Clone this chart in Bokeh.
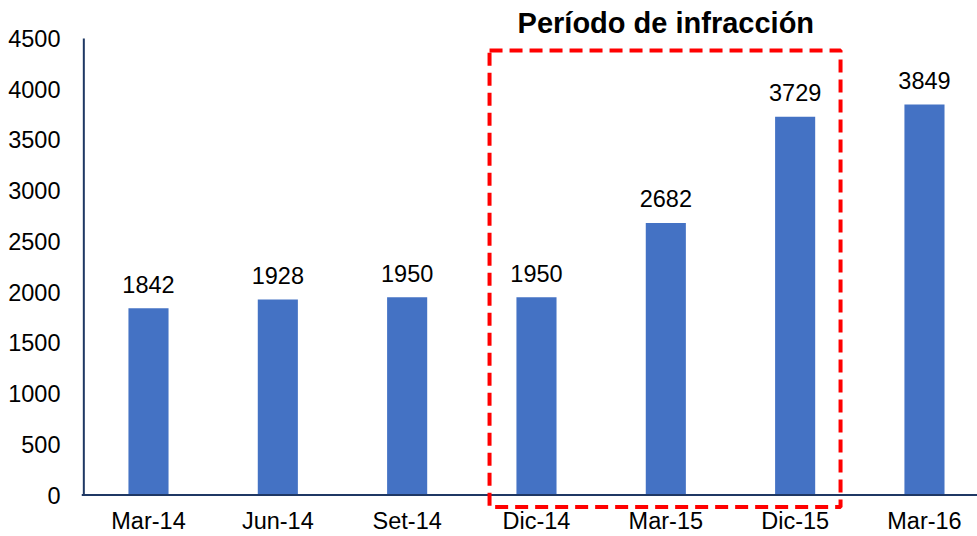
from bokeh.plotting import figure
from bokeh.models import ColumnDataSource, FixedTicker, Range1d, Span, BoxAnnotation, Label
from bokeh.core.properties import value
from bokeh.embed import file_html
from bokeh.resources import INLINE

categories = ["Mar-14", "Jun-14", "Set-14", "Dic-14", "Mar-15", "Dic-15", "Mar-16"]
values = [1842, 1928, 1950, 1950, 2682, 3729, 3849]
y_ticks = [0, 500, 1000, 1500, 2000, 2500, 3000, 3500, 4000, 4500]
highlight_title = "Período de infracción"
highlight_first, highlight_last = 4, 6  # Dic-14 .. Dic-15

FONT = "Liberation Sans"
AXIS_COLOR = "#1F3864"
BAR_COLOR = "#4472C4"
FS = "23.5px"

xs = list(range(1, len(categories) + 1))
src = ColumnDataSource(dict(x=xs, v=values, lab=[str(v) for v in values]))

p = figure(width=977, height=536, output_backend="svg", toolbar_location=None,
           x_range=Range1d(0.482, 7.410), y_range=Range1d(-162, 4874),
           min_border_left=81, min_border_right=0, min_border_top=0, min_border_bottom=0)
p.outline_line_color = None
p.grid.visible = False
p.background_fill_color = "white"
p.border_fill_color = "white"

p.vbar(x="x", top="v", width=0.31, source=src, fill_color=BAR_COLOR, line_color=None)
p.text(x="x", y="v", text="lab", source=src, y_offset=-24, text_align="center",
       text_baseline="middle", text_font=value(FONT), text_font_size=FS, text_color="black")

# axis lines
p.segment(x0=[0.5], y0=[0], x1=[0.5], y1=[y_ticks[-1]], line_color=AXIS_COLOR, line_width=2)
p.add_layout(Span(location=0, dimension="width", line_color=AXIS_COLOR, line_width=2))

# axes
p.yaxis.ticker = FixedTicker(ticks=y_ticks)
p.yaxis.axis_line_color = None
p.yaxis.major_tick_line_color = None
p.yaxis.minor_tick_line_color = None
p.yaxis.major_label_standoff = 15
p.yaxis.major_label_text_font = FONT
p.yaxis.major_label_text_font_size = FS
p.yaxis.major_label_text_color = "black"

p.xaxis.ticker = FixedTicker(ticks=xs)
p.xaxis.major_label_overrides = {x: c for x, c in zip(xs, categories)}
p.xaxis.axis_line_color = None
p.xaxis.major_tick_line_color = None
p.xaxis.minor_tick_line_color = None
p.xaxis.major_label_standoff = -10
p.xaxis.major_label_text_font = FONT
p.xaxis.major_label_text_font_size = FS
p.xaxis.major_label_text_color = "black"

# highlight box
lo = highlight_first - 0.363
hi = highlight_last + 0.351
p.add_layout(BoxAnnotation(left=lo, right=hi, bottom=-118, top=4382, fill_alpha=0,
                           line_color="#FF0000", line_alpha=1.0, line_width=4, line_dash="13 7"))
p.add_layout(Label(x=(highlight_first + highlight_last) / 2, y=4657, text=highlight_title,
                   text_align="center", text_baseline="middle", text_font=FONT,
                   text_font_size="29px", text_font_style="bold", text_color="black"))

open("out.html", "w").write(file_html(p, INLINE))
